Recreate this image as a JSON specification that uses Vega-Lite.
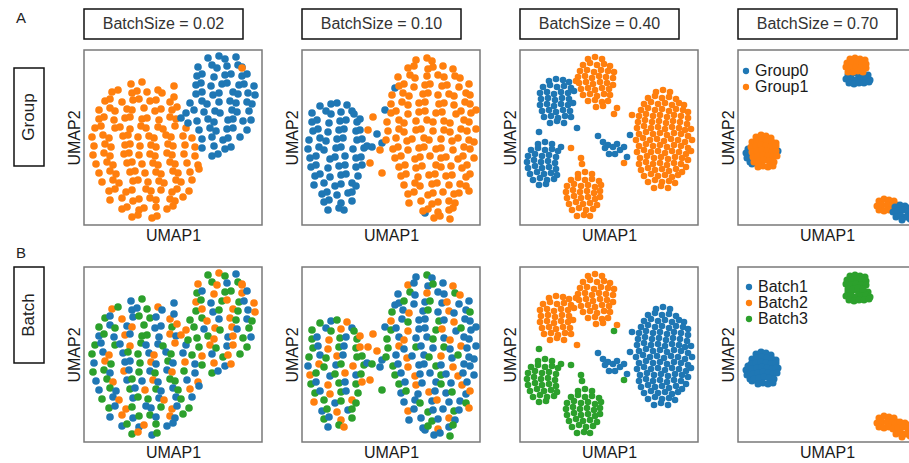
{
"$schema":"https://vega.github.io/schema/vega-lite/v6.json",
"padding":{"left":13,"top":8,"right":0,"bottom":0},
"background":"white",
"config":{"view":{"stroke":null},"font":"Liberation Sans","axis":{"labels":false,"ticks":false,"domain":false,"grid":false,"titleFontSize":16,"titleFontWeight":"normal","titleColor":"#1a1a1a","titlePadding":2,"titleFont":"Liberation Sans"},"legend":{"labelFont":"Liberation Sans"}},
"columns":5,"align":"each","bounds":"flush","center":true,
"spacing":{"row":11,"column":40},
"resolve":{"scale":{"color":"independent","x":"independent","y":"independent"},"legend":{"color":"independent"}},
"datasets":{
"c1":[
{"x":47,"y":34,"g":1,"b":1},{"x":58,"y":32,"g":1,"b":3},{"x":90,"y":36,"g":1,"b":1},{"x":28,"y":42,"g":1,"b":2},{"x":34,"y":40,"g":1,"b":3},{"x":48,"y":43,"g":1,"b":1},{"x":53,"y":41,"g":1,"b":1},{"x":63,"y":42,"g":1,"b":3},{"x":74,"y":40,"g":1,"b":2},{"x":78,"y":43,"g":1,"b":1},
{"x":21,"y":51,"g":1,"b":3},{"x":26,"y":49,"g":1,"b":1},{"x":38,"y":52,"g":1,"b":2},{"x":49,"y":50,"g":1,"b":1},{"x":55,"y":49,"g":1,"b":3},{"x":66,"y":51,"g":1,"b":3},{"x":72,"y":50,"g":1,"b":1},{"x":86,"y":52,"g":1,"b":2},{"x":90,"y":47,"g":1,"b":1},{"x":15,"y":60,"g":1,"b":3},
{"x":26,"y":58,"g":1,"b":1},{"x":31,"y":61,"g":1,"b":3},{"x":43,"y":59,"g":1,"b":1},{"x":48,"y":60,"g":1,"b":2},{"x":60,"y":58,"g":1,"b":3},{"x":71,"y":61,"g":1,"b":1},{"x":77,"y":59,"g":1,"b":1},{"x":88,"y":60,"g":1,"b":3},{"x":93,"y":57,"g":1,"b":2},{"x":15,"y":69,"g":1,"b":1},
{"x":20,"y":67,"g":1,"b":3},{"x":30,"y":70,"g":1,"b":1},{"x":41,"y":68,"g":1,"b":2},{"x":46,"y":67,"g":1,"b":1},{"x":58,"y":69,"g":1,"b":3},{"x":63,"y":68,"g":1,"b":3},{"x":75,"y":70,"g":1,"b":1},{"x":86,"y":67,"g":1,"b":2},{"x":92,"y":69,"g":1,"b":1},{"x":11,"y":78,"g":1,"b":3},
{"x":17,"y":76,"g":1,"b":1},{"x":31,"y":78,"g":1,"b":3},{"x":36,"y":77,"g":1,"b":1},{"x":46,"y":79,"g":1,"b":2},{"x":57,"y":76,"g":1,"b":3},{"x":62,"y":78,"g":1,"b":1},{"x":74,"y":77,"g":1,"b":1},{"x":79,"y":79,"g":1,"b":3},{"x":91,"y":76,"g":1,"b":2},{"x":102,"y":78,"g":1,"b":1},
{"x":8,"y":87,"g":1,"b":3},{"x":19,"y":85,"g":1,"b":1},{"x":25,"y":88,"g":1,"b":2},{"x":39,"y":86,"g":1,"b":1},{"x":44,"y":85,"g":1,"b":3},{"x":54,"y":87,"g":1,"b":3},{"x":65,"y":86,"g":1,"b":1},{"x":70,"y":88,"g":1,"b":2},{"x":82,"y":85,"g":1,"b":1},{"x":87,"y":87,"g":1,"b":3},
{"x":99,"y":86,"g":1,"b":1},{"x":108,"y":88,"g":1,"b":3},{"x":10,"y":96,"g":1,"b":1},{"x":21,"y":94,"g":1,"b":2},{"x":27,"y":97,"g":1,"b":3},{"x":41,"y":95,"g":1,"b":1},{"x":46,"y":94,"g":1,"b":1},{"x":56,"y":96,"g":1,"b":3},{"x":67,"y":95,"g":1,"b":2},{"x":72,"y":97,"g":1,"b":1},
{"x":84,"y":94,"g":1,"b":3},{"x":89,"y":96,"g":1,"b":1},{"x":101,"y":95,"g":1,"b":2},{"x":111,"y":97,"g":1,"b":1},{"x":9,"y":105,"g":1,"b":3},{"x":20,"y":103,"g":1,"b":3},{"x":26,"y":106,"g":1,"b":1},{"x":40,"y":104,"g":1,"b":2},{"x":45,"y":103,"g":1,"b":1},{"x":55,"y":105,"g":1,"b":3},
{"x":66,"y":104,"g":1,"b":1},{"x":71,"y":106,"g":1,"b":3},{"x":83,"y":103,"g":1,"b":1},{"x":88,"y":105,"g":1,"b":2},{"x":100,"y":104,"g":1,"b":3},{"x":111,"y":106,"g":1,"b":1},{"x":12,"y":114,"g":1,"b":1},{"x":23,"y":112,"g":1,"b":3},{"x":29,"y":115,"g":1,"b":2},{"x":43,"y":113,"g":1,"b":1},
{"x":48,"y":112,"g":1,"b":3},{"x":58,"y":114,"g":1,"b":1},{"x":69,"y":113,"g":1,"b":2},{"x":74,"y":115,"g":1,"b":1},{"x":86,"y":112,"g":1,"b":3},{"x":91,"y":114,"g":1,"b":3},{"x":103,"y":113,"g":1,"b":1},{"x":114,"y":115,"g":1,"b":2},{"x":15,"y":123,"g":1,"b":1},{"x":26,"y":121,"g":1,"b":3},
{"x":32,"y":124,"g":1,"b":1},{"x":46,"y":122,"g":1,"b":3},{"x":51,"y":121,"g":1,"b":1},{"x":61,"y":123,"g":1,"b":2},{"x":72,"y":122,"g":1,"b":3},{"x":77,"y":124,"g":1,"b":1},{"x":89,"y":121,"g":1,"b":1},{"x":94,"y":123,"g":1,"b":3},{"x":106,"y":122,"g":1,"b":2},{"x":115,"y":119,"g":1,"b":1},
{"x":18,"y":132,"g":1,"b":3},{"x":29,"y":130,"g":1,"b":1},{"x":35,"y":133,"g":1,"b":2},{"x":49,"y":131,"g":1,"b":1},{"x":54,"y":130,"g":1,"b":3},{"x":64,"y":132,"g":1,"b":3},{"x":75,"y":131,"g":1,"b":1},{"x":80,"y":133,"g":1,"b":2},{"x":92,"y":130,"g":1,"b":1},{"x":97,"y":132,"g":1,"b":3},
{"x":108,"y":130,"g":1,"b":1},{"x":25,"y":141,"g":1,"b":3},{"x":31,"y":139,"g":1,"b":1},{"x":42,"y":142,"g":1,"b":2},{"x":48,"y":140,"g":1,"b":3},{"x":62,"y":139,"g":1,"b":1},{"x":67,"y":141,"g":1,"b":1},{"x":77,"y":140,"g":1,"b":3},{"x":88,"y":142,"g":1,"b":2},{"x":93,"y":139,"g":1,"b":1},
{"x":105,"y":141,"g":1,"b":3},{"x":26,"y":150,"g":1,"b":1},{"x":38,"y":148,"g":1,"b":2},{"x":49,"y":151,"g":1,"b":1},{"x":55,"y":149,"g":1,"b":3},{"x":66,"y":148,"g":1,"b":3},{"x":72,"y":150,"g":1,"b":1},{"x":86,"y":149,"g":1,"b":2},{"x":91,"y":151,"g":1,"b":1},{"x":99,"y":147,"g":1,"b":3},
{"x":38,"y":159,"g":1,"b":1},{"x":43,"y":157,"g":1,"b":3},{"x":55,"y":160,"g":1,"b":1},{"x":60,"y":158,"g":1,"b":2},{"x":72,"y":157,"g":1,"b":3},{"x":83,"y":159,"g":1,"b":1},{"x":89,"y":156,"g":1,"b":1},{"x":48,"y":167,"g":1,"b":3},{"x":54,"y":165,"g":1,"b":2},{"x":68,"y":168,"g":1,"b":1},{"x":73,"y":166,"g":1,"b":3},
{"x":124,"y":8,"g":0,"b":3},{"x":135,"y":6,"g":0,"b":2},{"x":141,"y":9,"g":0,"b":3},{"x":152,"y":7,"g":0,"b":1},{"x":114,"y":17,"g":0,"b":2},{"x":128,"y":15,"g":0,"b":3},{"x":133,"y":18,"g":0,"b":2},{"x":143,"y":16,"g":0,"b":1},{"x":154,"y":15,"g":0,"b":3},{"x":158,"y":17,"g":0,"b":2},
{"x":113,"y":26,"g":0,"b":3},{"x":118,"y":24,"g":0,"b":1},{"x":130,"y":27,"g":0,"b":2},{"x":141,"y":25,"g":0,"b":3},{"x":147,"y":24,"g":0,"b":3},{"x":158,"y":26,"g":0,"b":2},{"x":163,"y":24,"g":0,"b":1},{"x":112,"y":35,"g":0,"b":2},{"x":117,"y":33,"g":0,"b":3},{"x":127,"y":36,"g":0,"b":1},
{"x":138,"y":34,"g":0,"b":3},{"x":143,"y":33,"g":0,"b":2},{"x":155,"y":35,"g":0,"b":3},{"x":160,"y":34,"g":0,"b":1},{"x":170,"y":36,"g":0,"b":2},{"x":112,"y":44,"g":0,"b":3},{"x":118,"y":42,"g":0,"b":2},{"x":129,"y":45,"g":0,"b":1},{"x":135,"y":43,"g":0,"b":3},{"x":149,"y":42,"g":0,"b":2},
{"x":154,"y":44,"g":0,"b":3},{"x":164,"y":43,"g":0,"b":1},{"x":171,"y":45,"g":0,"b":2},{"x":106,"y":53,"g":0,"b":3},{"x":118,"y":51,"g":0,"b":3},{"x":123,"y":54,"g":0,"b":2},{"x":135,"y":52,"g":0,"b":1},{"x":146,"y":51,"g":0,"b":2},{"x":152,"y":53,"g":0,"b":3},{"x":163,"y":52,"g":0,"b":1},
{"x":168,"y":54,"g":0,"b":3},{"x":102,"y":63,"g":0,"b":2},{"x":110,"y":60,"g":0,"b":3},{"x":120,"y":62,"g":0,"b":1},{"x":131,"y":61,"g":0,"b":2},{"x":136,"y":63,"g":0,"b":3},{"x":148,"y":60,"g":0,"b":2},{"x":153,"y":62,"g":0,"b":1},{"x":165,"y":61,"g":0,"b":3},{"x":97,"y":68,"g":0,"b":2},
{"x":113,"y":71,"g":0,"b":3},{"x":124,"y":69,"g":0,"b":3},{"x":130,"y":72,"g":0,"b":2},{"x":144,"y":70,"g":0,"b":1},{"x":149,"y":69,"g":0,"b":2},{"x":159,"y":71,"g":0,"b":3},{"x":167,"y":70,"g":0,"b":1},{"x":115,"y":80,"g":0,"b":3},{"x":126,"y":78,"g":0,"b":2},{"x":132,"y":81,"g":0,"b":3},
{"x":143,"y":79,"g":0,"b":1},{"x":149,"y":78,"g":0,"b":2},{"x":163,"y":80,"g":0,"b":3},{"x":118,"y":89,"g":0,"b":2},{"x":128,"y":87,"g":0,"b":1},{"x":139,"y":90,"g":0,"b":3},{"x":144,"y":88,"g":0,"b":2},{"x":156,"y":87,"g":0,"b":3},{"x":118,"y":98,"g":0,"b":3},{"x":130,"y":96,"g":0,"b":2},
{"x":141,"y":99,"g":0,"b":1},{"x":147,"y":97,"g":0,"b":2},{"x":128,"y":106,"g":0,"b":3},{"x":134,"y":104,"g":0,"b":1},{"x":104,"y":73,"g":0,"b":3},
{"x":158,"y":18,"g":1,"b":2}
],
"c2":[
{"x":18,"y":56,"g":0,"b":3},{"x":29,"y":54,"g":0,"b":1},{"x":35,"y":53,"g":0,"b":3},{"x":45,"y":55,"g":0,"b":2},{"x":10,"y":63,"g":0,"b":3},{"x":24,"y":61,"g":0,"b":1},{"x":29,"y":64,"g":0,"b":3},{"x":39,"y":62,"g":0,"b":2},{"x":50,"y":61,"g":0,"b":1},{"x":52,"y":64,"g":0,"b":3},
{"x":10,"y":72,"g":0,"b":3},{"x":15,"y":70,"g":0,"b":1},{"x":27,"y":73,"g":0,"b":2},{"x":38,"y":71,"g":0,"b":3},{"x":44,"y":70,"g":0,"b":1},{"x":55,"y":72,"g":0,"b":3},{"x":58,"y":69,"g":0,"b":2},{"x":11,"y":81,"g":0,"b":3},{"x":16,"y":79,"g":0,"b":1},{"x":26,"y":82,"g":0,"b":2},
{"x":37,"y":80,"g":0,"b":3},{"x":42,"y":79,"g":0,"b":1},{"x":54,"y":81,"g":0,"b":3},{"x":58,"y":80,"g":0,"b":2},{"x":7,"y":90,"g":0,"b":3},{"x":18,"y":88,"g":0,"b":1},{"x":24,"y":91,"g":0,"b":3},{"x":35,"y":89,"g":0,"b":2},{"x":41,"y":88,"g":0,"b":1},{"x":55,"y":90,"g":0,"b":3},
{"x":60,"y":89,"g":0,"b":3},{"x":6,"y":99,"g":0,"b":1},{"x":17,"y":97,"g":0,"b":2},{"x":22,"y":100,"g":0,"b":3},{"x":34,"y":98,"g":0,"b":1},{"x":39,"y":97,"g":0,"b":3},{"x":51,"y":99,"g":0,"b":2},{"x":62,"y":98,"g":0,"b":3},{"x":65,"y":96,"g":0,"b":1},{"x":8,"y":108,"g":0,"b":2},
{"x":14,"y":106,"g":0,"b":3},{"x":28,"y":109,"g":0,"b":1},{"x":33,"y":107,"g":0,"b":3},{"x":43,"y":106,"g":0,"b":2},{"x":54,"y":108,"g":0,"b":1},{"x":59,"y":107,"g":0,"b":3},{"x":9,"y":117,"g":0,"b":3},{"x":14,"y":115,"g":0,"b":1},{"x":26,"y":118,"g":0,"b":2},{"x":37,"y":116,"g":0,"b":3},
{"x":43,"y":115,"g":0,"b":1},{"x":54,"y":117,"g":0,"b":3},{"x":60,"y":115,"g":0,"b":2},{"x":13,"y":126,"g":0,"b":3},{"x":18,"y":124,"g":0,"b":1},{"x":28,"y":127,"g":0,"b":2},{"x":39,"y":125,"g":0,"b":3},{"x":44,"y":124,"g":0,"b":1},{"x":56,"y":126,"g":0,"b":3},{"x":12,"y":135,"g":0,"b":2},
{"x":22,"y":133,"g":0,"b":3},{"x":33,"y":136,"g":0,"b":1},{"x":39,"y":134,"g":0,"b":3},{"x":50,"y":133,"g":0,"b":2},{"x":54,"y":136,"g":0,"b":3},{"x":20,"y":144,"g":0,"b":1},{"x":25,"y":142,"g":0,"b":3},{"x":35,"y":145,"g":0,"b":2},{"x":46,"y":143,"g":0,"b":1},{"x":50,"y":142,"g":0,"b":3},
{"x":22,"y":152,"g":0,"b":3},{"x":27,"y":150,"g":0,"b":1},{"x":39,"y":153,"g":0,"b":2},{"x":50,"y":151,"g":0,"b":3},{"x":26,"y":160,"g":0,"b":1},{"x":37,"y":158,"g":0,"b":3},{"x":42,"y":160,"g":0,"b":2},
{"x":83,"y":60,"g":0,"b":1},{"x":93,"y":38,"g":0,"b":1},{"x":70,"y":97,"g":0,"b":3},{"x":80,"y":93,"g":0,"b":1},{"x":123,"y":163,"g":0,"b":1},{"x":75,"y":84,"g":0,"b":2},
{"x":71,"y":67,"g":1,"b":2},{"x":66,"y":80,"g":1,"b":2},{"x":68,"y":113,"g":1,"b":2},{"x":80,"y":123,"g":1,"b":3},{"x":78,"y":100,"g":1,"b":1},
{"x":114,"y":10,"g":1,"b":1},{"x":125,"y":8,"g":1,"b":3},{"x":130,"y":11,"g":1,"b":1},{"x":106,"y":18,"g":1,"b":2},{"x":112,"y":16,"g":1,"b":1},{"x":126,"y":19,"g":1,"b":1},{"x":131,"y":17,"g":1,"b":3},{"x":141,"y":16,"g":1,"b":1},{"x":151,"y":19,"g":1,"b":2},{"x":96,"y":27,"g":1,"b":1},
{"x":108,"y":25,"g":1,"b":3},{"x":113,"y":28,"g":1,"b":1},{"x":125,"y":26,"g":1,"b":2},{"x":136,"y":25,"g":1,"b":1},{"x":142,"y":27,"g":1,"b":1},{"x":153,"y":26,"g":1,"b":3},{"x":158,"y":28,"g":1,"b":2},{"x":97,"y":36,"g":1,"b":1},{"x":102,"y":34,"g":1,"b":3},{"x":112,"y":37,"g":1,"b":1},
{"x":123,"y":35,"g":1,"b":1},{"x":128,"y":34,"g":1,"b":3},{"x":140,"y":36,"g":1,"b":1},{"x":145,"y":35,"g":1,"b":2},{"x":157,"y":37,"g":1,"b":1},{"x":167,"y":34,"g":1,"b":1},{"x":90,"y":45,"g":1,"b":3},{"x":101,"y":43,"g":1,"b":1},{"x":107,"y":46,"g":1,"b":2},{"x":121,"y":44,"g":1,"b":1},
{"x":126,"y":43,"g":1,"b":3},{"x":136,"y":45,"g":1,"b":1},{"x":147,"y":44,"g":1,"b":2},{"x":152,"y":46,"g":1,"b":1},{"x":164,"y":43,"g":1,"b":1},{"x":168,"y":45,"g":1,"b":3},{"x":89,"y":54,"g":1,"b":2},{"x":100,"y":52,"g":1,"b":1},{"x":106,"y":55,"g":1,"b":3},{"x":117,"y":53,"g":1,"b":1},
{"x":123,"y":52,"g":1,"b":1},{"x":137,"y":54,"g":1,"b":3},{"x":142,"y":53,"g":1,"b":1},{"x":152,"y":55,"g":1,"b":2},{"x":163,"y":52,"g":1,"b":1},{"x":168,"y":54,"g":1,"b":1},{"x":89,"y":63,"g":1,"b":3},{"x":94,"y":61,"g":1,"b":1},{"x":106,"y":64,"g":1,"b":2},{"x":117,"y":62,"g":1,"b":1},
{"x":123,"y":61,"g":1,"b":1},{"x":134,"y":63,"g":1,"b":3},{"x":140,"y":62,"g":1,"b":2},{"x":154,"y":64,"g":1,"b":1},{"x":159,"y":61,"g":1,"b":3},{"x":169,"y":63,"g":1,"b":1},{"x":174,"y":60,"g":1,"b":1},{"x":85,"y":72,"g":1,"b":3},{"x":97,"y":70,"g":1,"b":1},{"x":102,"y":73,"g":1,"b":2},
{"x":114,"y":71,"g":1,"b":1},{"x":125,"y":70,"g":1,"b":1},{"x":131,"y":72,"g":1,"b":3},{"x":142,"y":71,"g":1,"b":1},{"x":148,"y":73,"g":1,"b":2},{"x":162,"y":70,"g":1,"b":1},{"x":167,"y":72,"g":1,"b":1},{"x":86,"y":81,"g":1,"b":3},{"x":97,"y":79,"g":1,"b":2},{"x":102,"y":82,"g":1,"b":1},
{"x":114,"y":80,"g":1,"b":3},{"x":119,"y":79,"g":1,"b":1},{"x":131,"y":81,"g":1,"b":1},{"x":142,"y":80,"g":1,"b":3},{"x":148,"y":82,"g":1,"b":1},{"x":159,"y":79,"g":1,"b":2},{"x":165,"y":81,"g":1,"b":1},{"x":174,"y":79,"g":1,"b":1},{"x":84,"y":90,"g":1,"b":3},{"x":94,"y":88,"g":1,"b":1},
{"x":105,"y":91,"g":1,"b":2},{"x":110,"y":89,"g":1,"b":1},{"x":122,"y":88,"g":1,"b":1},{"x":127,"y":90,"g":1,"b":3},{"x":139,"y":89,"g":1,"b":2},{"x":150,"y":91,"g":1,"b":1},{"x":156,"y":88,"g":1,"b":3},{"x":167,"y":90,"g":1,"b":1},{"x":172,"y":92,"g":1,"b":1},{"x":91,"y":99,"g":1,"b":3},
{"x":96,"y":97,"g":1,"b":1},{"x":106,"y":100,"g":1,"b":2},{"x":117,"y":98,"g":1,"b":1},{"x":122,"y":97,"g":1,"b":1},{"x":134,"y":99,"g":1,"b":3},{"x":139,"y":98,"g":1,"b":1},{"x":151,"y":100,"g":1,"b":2},{"x":162,"y":97,"g":1,"b":1},{"x":168,"y":99,"g":1,"b":1},{"x":93,"y":108,"g":1,"b":3},
{"x":99,"y":106,"g":1,"b":1},{"x":113,"y":109,"g":1,"b":2},{"x":118,"y":107,"g":1,"b":1},{"x":128,"y":106,"g":1,"b":1},{"x":139,"y":108,"g":1,"b":3},{"x":144,"y":107,"g":1,"b":1},{"x":156,"y":109,"g":1,"b":2},{"x":161,"y":106,"g":1,"b":1},{"x":172,"y":108,"g":1,"b":1},{"x":97,"y":117,"g":1,"b":3},
{"x":103,"y":115,"g":1,"b":1},{"x":114,"y":118,"g":1,"b":2},{"x":120,"y":116,"g":1,"b":1},{"x":134,"y":115,"g":1,"b":1},{"x":139,"y":117,"g":1,"b":3},{"x":149,"y":116,"g":1,"b":1},{"x":160,"y":118,"g":1,"b":2},{"x":165,"y":115,"g":1,"b":1},{"x":99,"y":126,"g":1,"b":1},{"x":104,"y":124,"g":1,"b":3},
{"x":116,"y":127,"g":1,"b":1},{"x":127,"y":125,"g":1,"b":2},{"x":133,"y":124,"g":1,"b":1},{"x":144,"y":126,"g":1,"b":1},{"x":150,"y":125,"g":1,"b":3},{"x":164,"y":127,"g":1,"b":1},{"x":168,"y":124,"g":1,"b":2},{"x":102,"y":135,"g":1,"b":1},{"x":113,"y":133,"g":1,"b":1},{"x":118,"y":136,"g":1,"b":3},
{"x":130,"y":134,"g":1,"b":1},{"x":135,"y":133,"g":1,"b":2},{"x":147,"y":135,"g":1,"b":1},{"x":158,"y":134,"g":1,"b":1},{"x":164,"y":136,"g":1,"b":3},{"x":106,"y":144,"g":1,"b":2},{"x":112,"y":142,"g":1,"b":1},{"x":126,"y":145,"g":1,"b":3},{"x":131,"y":143,"g":1,"b":1},{"x":141,"y":142,"g":1,"b":1},
{"x":152,"y":144,"g":1,"b":3},{"x":157,"y":143,"g":1,"b":1},{"x":167,"y":141,"g":1,"b":2},{"x":107,"y":153,"g":1,"b":1},{"x":119,"y":151,"g":1,"b":1},{"x":130,"y":154,"g":1,"b":3},{"x":136,"y":152,"g":1,"b":1},{"x":147,"y":151,"g":1,"b":2},{"x":153,"y":153,"g":1,"b":1},{"x":121,"y":161,"g":1,"b":1},
{"x":126,"y":159,"g":1,"b":3},{"x":136,"y":162,"g":1,"b":2},{"x":147,"y":160,"g":1,"b":1},{"x":151,"y":158,"g":1,"b":3},{"x":132,"y":168,"g":1,"b":1},{"x":138,"y":166,"g":1,"b":1},{"x":148,"y":169,"g":1,"b":3}
],
"c3":[
{"x":29,"y":31,"g":0,"b":2},{"x":36,"y":29,"g":0,"b":2},{"x":43,"y":30,"g":0,"b":2},{"x":49,"y":32,"g":0,"b":2},{"x":23,"y":37,"g":0,"b":2},{"x":30,"y":35,"g":0,"b":2},{"x":37,"y":37,"g":0,"b":2},{"x":44,"y":36,"g":0,"b":2},{"x":51,"y":38,"g":0,"b":2},{"x":20,"y":43,"g":0,"b":2},
{"x":27,"y":42,"g":0,"b":2},{"x":34,"y":44,"g":0,"b":2},{"x":41,"y":42,"g":0,"b":2},{"x":48,"y":43,"g":0,"b":2},{"x":54,"y":41,"g":0,"b":2},{"x":21,"y":49,"g":0,"b":2},{"x":28,"y":48,"g":0,"b":2},{"x":35,"y":50,"g":0,"b":2},{"x":42,"y":48,"g":0,"b":2},{"x":49,"y":49,"g":0,"b":2},
{"x":20,"y":55,"g":0,"b":2},{"x":27,"y":54,"g":0,"b":2},{"x":34,"y":56,"g":0,"b":2},{"x":41,"y":54,"g":0,"b":2},{"x":48,"y":55,"g":0,"b":2},{"x":53,"y":53,"g":0,"b":2},{"x":22,"y":61,"g":0,"b":2},{"x":29,"y":60,"g":0,"b":2},{"x":36,"y":62,"g":0,"b":2},{"x":43,"y":60,"g":0,"b":2},
{"x":50,"y":61,"g":0,"b":2},{"x":24,"y":67,"g":0,"b":2},{"x":31,"y":66,"g":0,"b":2},{"x":38,"y":68,"g":0,"b":2},{"x":45,"y":66,"g":0,"b":2},{"x":51,"y":67,"g":0,"b":2},{"x":30,"y":73,"g":0,"b":2},{"x":37,"y":71,"g":0,"b":2},{"x":44,"y":73,"g":0,"b":2},{"x":57,"y":78,"g":0,"b":2},
{"x":68,"y":9,"g":1,"b":2},{"x":75,"y":7,"g":1,"b":2},{"x":82,"y":9,"g":1,"b":2},{"x":63,"y":15,"g":1,"b":2},{"x":70,"y":13,"g":1,"b":2},{"x":77,"y":15,"g":1,"b":2},{"x":84,"y":14,"g":1,"b":2},{"x":90,"y":16,"g":1,"b":2},{"x":60,"y":21,"g":1,"b":2},{"x":67,"y":20,"g":1,"b":2},
{"x":74,"y":22,"g":1,"b":2},{"x":81,"y":20,"g":1,"b":2},{"x":88,"y":21,"g":1,"b":2},{"x":94,"y":22,"g":1,"b":2},{"x":58,"y":27,"g":1,"b":2},{"x":65,"y":26,"g":1,"b":2},{"x":72,"y":28,"g":1,"b":2},{"x":79,"y":26,"g":1,"b":2},{"x":86,"y":27,"g":1,"b":2},{"x":93,"y":28,"g":1,"b":2},
{"x":59,"y":33,"g":1,"b":2},{"x":66,"y":32,"g":1,"b":2},{"x":73,"y":34,"g":1,"b":2},{"x":80,"y":32,"g":1,"b":2},{"x":87,"y":33,"g":1,"b":2},{"x":93,"y":35,"g":1,"b":2},{"x":61,"y":39,"g":1,"b":2},{"x":68,"y":38,"g":1,"b":2},{"x":75,"y":40,"g":1,"b":2},{"x":82,"y":38,"g":1,"b":2},
{"x":89,"y":39,"g":1,"b":2},{"x":63,"y":45,"g":1,"b":2},{"x":70,"y":44,"g":1,"b":2},{"x":77,"y":46,"g":1,"b":2},{"x":84,"y":44,"g":1,"b":2},{"x":90,"y":45,"g":1,"b":2},{"x":68,"y":51,"g":1,"b":2},{"x":75,"y":50,"g":1,"b":2},{"x":82,"y":52,"g":1,"b":2},{"x":88,"y":51,"g":1,"b":2},
{"x":76,"y":57,"g":1,"b":2},{"x":83,"y":56,"g":1,"b":2},{"x":97,"y":58,"g":1,"b":2},{"x":56,"y":31,"g":1,"b":2},{"x":94,"y":64,"g":1,"b":3},
{"x":18,"y":94,"g":0,"b":3},{"x":25,"y":92,"g":0,"b":3},{"x":32,"y":94,"g":0,"b":3},{"x":11,"y":100,"g":0,"b":3},{"x":18,"y":98,"g":0,"b":3},{"x":25,"y":100,"g":0,"b":3},{"x":32,"y":99,"g":0,"b":3},{"x":38,"y":101,"g":0,"b":3},{"x":8,"y":106,"g":0,"b":3},{"x":15,"y":104,"g":0,"b":3},
{"x":22,"y":106,"g":0,"b":3},{"x":29,"y":105,"g":0,"b":3},{"x":36,"y":107,"g":0,"b":3},{"x":7,"y":112,"g":0,"b":3},{"x":14,"y":110,"g":0,"b":3},{"x":21,"y":112,"g":0,"b":3},{"x":28,"y":111,"g":0,"b":3},{"x":35,"y":113,"g":0,"b":3},{"x":8,"y":118,"g":0,"b":3},{"x":15,"y":116,"g":0,"b":3},
{"x":22,"y":118,"g":0,"b":3},{"x":29,"y":117,"g":0,"b":3},{"x":36,"y":119,"g":0,"b":3},{"x":10,"y":124,"g":0,"b":3},{"x":17,"y":122,"g":0,"b":3},{"x":24,"y":124,"g":0,"b":3},{"x":31,"y":123,"g":0,"b":3},{"x":37,"y":125,"g":0,"b":3},{"x":13,"y":130,"g":0,"b":3},{"x":20,"y":128,"g":0,"b":3},
{"x":27,"y":130,"g":0,"b":3},{"x":34,"y":129,"g":0,"b":3},{"x":19,"y":135,"g":0,"b":3},{"x":26,"y":134,"g":0,"b":3},{"x":19,"y":82,"g":0,"b":3},{"x":41,"y":97,"g":0,"b":3},
{"x":58,"y":124,"g":1,"b":3},{"x":65,"y":122,"g":1,"b":3},{"x":72,"y":124,"g":1,"b":3},{"x":51,"y":130,"g":1,"b":3},{"x":58,"y":128,"g":1,"b":3},{"x":65,"y":130,"g":1,"b":3},{"x":72,"y":129,"g":1,"b":3},{"x":79,"y":131,"g":1,"b":3},{"x":47,"y":136,"g":1,"b":3},{"x":54,"y":134,"g":1,"b":3},
{"x":61,"y":136,"g":1,"b":3},{"x":68,"y":135,"g":1,"b":3},{"x":75,"y":137,"g":1,"b":3},{"x":81,"y":135,"g":1,"b":3},{"x":46,"y":142,"g":1,"b":3},{"x":53,"y":140,"g":1,"b":3},{"x":60,"y":142,"g":1,"b":3},{"x":67,"y":141,"g":1,"b":3},{"x":74,"y":143,"g":1,"b":3},{"x":80,"y":141,"g":1,"b":3},
{"x":47,"y":148,"g":1,"b":3},{"x":54,"y":146,"g":1,"b":3},{"x":61,"y":148,"g":1,"b":3},{"x":68,"y":147,"g":1,"b":3},{"x":75,"y":149,"g":1,"b":3},{"x":80,"y":147,"g":1,"b":3},{"x":49,"y":154,"g":1,"b":3},{"x":56,"y":152,"g":1,"b":3},{"x":63,"y":154,"g":1,"b":3},{"x":70,"y":153,"g":1,"b":3},
{"x":77,"y":155,"g":1,"b":3},{"x":52,"y":160,"g":1,"b":3},{"x":59,"y":158,"g":1,"b":3},{"x":66,"y":160,"g":1,"b":3},{"x":73,"y":159,"g":1,"b":3},{"x":57,"y":166,"g":1,"b":3},{"x":64,"y":165,"g":1,"b":3},{"x":70,"y":166,"g":1,"b":3},{"x":61,"y":108,"g":1,"b":3},{"x":62,"y":114,"g":1,"b":3},
{"x":51,"y":98,"g":1,"b":3},{"x":104,"y":113,"g":1,"b":3},
{"x":78,"y":86,"g":0,"b":1},{"x":83,"y":92,"g":0,"b":1},{"x":88,"y":95,"g":0,"b":1},{"x":93,"y":97,"g":0,"b":1},{"x":97,"y":94,"g":0,"b":1},{"x":100,"y":100,"g":0,"b":1},{"x":89,"y":104,"g":0,"b":1},{"x":95,"y":104,"g":0,"b":1},{"x":107,"y":107,"g":0,"b":1},{"x":110,"y":85,"g":0,"b":1},
{"x":104,"y":97,"g":0,"b":1},{"x":85,"y":98,"g":0,"b":1},{"x":112,"y":65,"g":1,"b":1},
{"x":136,"y":42,"g":1,"b":1},{"x":143,"y":40,"g":1,"b":1},{"x":150,"y":42,"g":1,"b":1},{"x":128,"y":48,"g":1,"b":1},{"x":135,"y":46,"g":1,"b":1},{"x":142,"y":48,"g":1,"b":1},{"x":149,"y":47,"g":1,"b":1},{"x":156,"y":49,"g":1,"b":1},
{"x":124,"y":54,"g":1,"b":1},{"x":131,"y":52,"g":1,"b":1},{"x":138,"y":54,"g":1,"b":1},{"x":145,"y":53,"g":1,"b":1},{"x":152,"y":55,"g":1,"b":1},{"x":159,"y":53,"g":1,"b":1},{"x":164,"y":55,"g":1,"b":1},
{"x":121,"y":60,"g":1,"b":1},{"x":128,"y":58,"g":1,"b":1},{"x":135,"y":60,"g":1,"b":1},{"x":142,"y":59,"g":1,"b":1},{"x":149,"y":61,"g":1,"b":1},{"x":156,"y":59,"g":1,"b":1},{"x":163,"y":60,"g":1,"b":1},{"x":168,"y":62,"g":1,"b":1},
{"x":119,"y":66,"g":1,"b":1},{"x":126,"y":64,"g":1,"b":1},{"x":133,"y":66,"g":1,"b":1},{"x":140,"y":65,"g":1,"b":1},{"x":147,"y":67,"g":1,"b":1},{"x":154,"y":65,"g":1,"b":1},{"x":161,"y":66,"g":1,"b":1},{"x":168,"y":68,"g":1,"b":1},
{"x":118,"y":72,"g":1,"b":1},{"x":125,"y":70,"g":1,"b":1},{"x":132,"y":72,"g":1,"b":1},{"x":139,"y":71,"g":1,"b":1},{"x":146,"y":73,"g":1,"b":1},{"x":153,"y":71,"g":1,"b":1},{"x":160,"y":72,"g":1,"b":1},{"x":167,"y":74,"g":1,"b":1},{"x":171,"y":79,"g":1,"b":1},
{"x":117,"y":78,"g":1,"b":1},{"x":124,"y":76,"g":1,"b":1},{"x":131,"y":78,"g":1,"b":1},{"x":138,"y":77,"g":1,"b":1},{"x":145,"y":79,"g":1,"b":1},{"x":152,"y":77,"g":1,"b":1},{"x":159,"y":78,"g":1,"b":1},{"x":165,"y":80,"g":1,"b":1},
{"x":119,"y":84,"g":1,"b":1},{"x":126,"y":82,"g":1,"b":1},{"x":133,"y":84,"g":1,"b":1},{"x":140,"y":83,"g":1,"b":1},{"x":147,"y":85,"g":1,"b":1},{"x":154,"y":83,"g":1,"b":1},{"x":161,"y":84,"g":1,"b":1},{"x":168,"y":86,"g":1,"b":1},
{"x":116,"y":90,"g":1,"b":1},{"x":123,"y":88,"g":1,"b":1},{"x":130,"y":90,"g":1,"b":1},{"x":137,"y":89,"g":1,"b":1},{"x":144,"y":91,"g":1,"b":1},{"x":151,"y":89,"g":1,"b":1},{"x":158,"y":90,"g":1,"b":1},{"x":165,"y":92,"g":1,"b":1},{"x":172,"y":90,"g":1,"b":1},
{"x":119,"y":96,"g":1,"b":1},{"x":126,"y":94,"g":1,"b":1},{"x":133,"y":96,"g":1,"b":1},{"x":140,"y":95,"g":1,"b":1},{"x":147,"y":97,"g":1,"b":1},{"x":154,"y":95,"g":1,"b":1},{"x":161,"y":96,"g":1,"b":1},{"x":168,"y":98,"g":1,"b":1},
{"x":117,"y":102,"g":1,"b":1},{"x":124,"y":100,"g":1,"b":1},{"x":131,"y":102,"g":1,"b":1},{"x":138,"y":101,"g":1,"b":1},{"x":145,"y":103,"g":1,"b":1},{"x":152,"y":101,"g":1,"b":1},{"x":159,"y":102,"g":1,"b":1},{"x":166,"y":104,"g":1,"b":1},{"x":171,"y":101,"g":1,"b":1},
{"x":120,"y":108,"g":1,"b":1},{"x":127,"y":106,"g":1,"b":1},{"x":134,"y":108,"g":1,"b":1},{"x":141,"y":107,"g":1,"b":1},{"x":148,"y":109,"g":1,"b":1},{"x":155,"y":107,"g":1,"b":1},{"x":162,"y":108,"g":1,"b":1},{"x":168,"y":110,"g":1,"b":1},
{"x":119,"y":114,"g":1,"b":1},{"x":126,"y":112,"g":1,"b":1},{"x":133,"y":114,"g":1,"b":1},{"x":140,"y":113,"g":1,"b":1},{"x":147,"y":115,"g":1,"b":1},{"x":154,"y":113,"g":1,"b":1},{"x":161,"y":114,"g":1,"b":1},{"x":166,"y":117,"g":1,"b":1},
{"x":121,"y":120,"g":1,"b":1},{"x":128,"y":118,"g":1,"b":1},{"x":135,"y":120,"g":1,"b":1},{"x":142,"y":119,"g":1,"b":1},{"x":149,"y":121,"g":1,"b":1},{"x":156,"y":119,"g":1,"b":1},{"x":162,"y":122,"g":1,"b":1},
{"x":124,"y":126,"g":1,"b":1},{"x":131,"y":124,"g":1,"b":1},{"x":138,"y":126,"g":1,"b":1},{"x":145,"y":125,"g":1,"b":1},{"x":152,"y":127,"g":1,"b":1},{"x":158,"y":125,"g":1,"b":1},
{"x":128,"y":132,"g":1,"b":1},{"x":135,"y":130,"g":1,"b":1},{"x":142,"y":132,"g":1,"b":1},{"x":149,"y":131,"g":1,"b":1},{"x":155,"y":133,"g":1,"b":1},{"x":134,"y":138,"g":1,"b":1},{"x":141,"y":136,"g":1,"b":1},{"x":148,"y":138,"g":1,"b":1}
],
"c4":[
{"x":110,"y":25,"g":0,"b":3},{"x":115,"y":23,"g":0,"b":3},{"x":120,"y":24,"g":0,"b":3},{"x":125,"y":23,"g":0,"b":3},{"x":130,"y":25,"g":0,"b":3},{"x":108,"y":29,"g":0,"b":3},{"x":113,"y":28,"g":0,"b":3},{"x":118,"y":30,"g":0,"b":3},{"x":123,"y":29,"g":0,"b":3},{"x":128,"y":28,"g":0,"b":3},
{"x":132,"y":30,"g":0,"b":3},{"x":111,"y":33,"g":0,"b":3},{"x":116,"y":34,"g":0,"b":3},{"x":121,"y":33,"g":0,"b":3},{"x":126,"y":33,"g":0,"b":3},{"x":131,"y":32,"g":0,"b":3},
{"x":112,"y":9,"g":1,"b":3},{"x":117,"y":8,"g":1,"b":3},{"x":122,"y":9,"g":1,"b":3},{"x":127,"y":10,"g":1,"b":3},{"x":109,"y":13,"g":1,"b":3},{"x":114,"y":13,"g":1,"b":3},{"x":119,"y":12,"g":1,"b":3},{"x":124,"y":13,"g":1,"b":3},{"x":128,"y":14,"g":1,"b":3},{"x":108,"y":17,"g":1,"b":3},
{"x":113,"y":18,"g":1,"b":3},{"x":118,"y":17,"g":1,"b":3},{"x":123,"y":18,"g":1,"b":3},{"x":128,"y":18,"g":1,"b":3},{"x":110,"y":22,"g":1,"b":3},{"x":115,"y":22,"g":1,"b":3},{"x":120,"y":21,"g":1,"b":3},{"x":125,"y":22,"g":1,"b":3},
{"x":8,"y":103,"g":0,"b":1},{"x":9,"y":108,"g":0,"b":1},{"x":12,"y":112,"g":0,"b":1},{"x":10,"y":99,"g":0,"b":1},{"x":13,"y":106,"g":0,"b":1},{"x":40,"y":101,"g":0,"b":1},{"x":14,"y":114,"g":0,"b":1},
{"x":18,"y":87,"g":1,"b":1},{"x":23,"y":85,"g":1,"b":1},{"x":28,"y":86,"g":1,"b":1},{"x":33,"y":88,"g":1,"b":1},{"x":14,"y":92,"g":1,"b":1},{"x":19,"y":91,"g":1,"b":1},{"x":24,"y":90,"g":1,"b":1},{"x":29,"y":91,"g":1,"b":1},{"x":34,"y":92,"g":1,"b":1},{"x":38,"y":93,"g":1,"b":1},
{"x":13,"y":97,"g":1,"b":1},{"x":18,"y":96,"g":1,"b":1},{"x":23,"y":95,"g":1,"b":1},{"x":28,"y":96,"g":1,"b":1},{"x":33,"y":97,"g":1,"b":1},{"x":38,"y":96,"g":1,"b":1},{"x":14,"y":102,"g":1,"b":1},{"x":19,"y":101,"g":1,"b":1},{"x":24,"y":100,"g":1,"b":1},{"x":29,"y":101,"g":1,"b":1},
{"x":34,"y":102,"g":1,"b":1},{"x":38,"y":101,"g":1,"b":1},{"x":15,"y":107,"g":1,"b":1},{"x":20,"y":106,"g":1,"b":1},{"x":25,"y":105,"g":1,"b":1},{"x":30,"y":106,"g":1,"b":1},{"x":35,"y":107,"g":1,"b":1},{"x":39,"y":106,"g":1,"b":1},{"x":16,"y":112,"g":1,"b":1},{"x":21,"y":111,"g":1,"b":1},
{"x":26,"y":110,"g":1,"b":1},{"x":31,"y":111,"g":1,"b":1},{"x":36,"y":112,"g":1,"b":1},{"x":20,"y":117,"g":1,"b":1},{"x":25,"y":116,"g":1,"b":1},{"x":30,"y":117,"g":1,"b":1},{"x":35,"y":116,"g":1,"b":1},
{"x":141,"y":151,"g":1,"b":2},{"x":146,"y":149,"g":1,"b":2},{"x":151,"y":150,"g":1,"b":2},{"x":156,"y":151,"g":1,"b":2},{"x":139,"y":156,"g":1,"b":2},{"x":144,"y":155,"g":1,"b":2},{"x":149,"y":155,"g":1,"b":2},{"x":154,"y":156,"g":1,"b":2},{"x":159,"y":155,"g":1,"b":2},{"x":141,"y":160,"g":1,"b":2},
{"x":146,"y":161,"g":1,"b":2},{"x":151,"y":160,"g":1,"b":2},{"x":156,"y":161,"g":1,"b":2},
{"x":157,"y":157,"g":0,"b":2},{"x":162,"y":155,"g":0,"b":2},{"x":167,"y":156,"g":0,"b":2},{"x":171,"y":158,"g":0,"b":2},{"x":155,"y":162,"g":0,"b":2},{"x":160,"y":161,"g":0,"b":2},{"x":165,"y":160,"g":0,"b":2},{"x":170,"y":162,"g":0,"b":2},{"x":173,"y":165,"g":0,"b":2},{"x":158,"y":167,"g":0,"b":2},
{"x":163,"y":166,"g":0,"b":2},{"x":168,"y":167,"g":0,"b":2},{"x":172,"y":169,"g":0,"b":2},{"x":164,"y":170,"g":0,"b":2}
]
},
"concat":[
{"width":30,"height":30,"data":{"values":[{"t":"A"}]},"mark":{"type":"text","fontSize":15,"color":"#222","dx":-8,"dy":-6},"encoding":{"text":{"field":"t"}}},
{"width":159,"height":30,"view":{"stroke":"#111","strokeWidth":1.5},"data":{"values":[{"label":"BatchSize = 0.02"}]},"mark":{"type":"text","fontSize":16,"color":"#333"},"encoding":{"text":{"field":"label"}}},
{"width":159,"height":30,"view":{"stroke":"#111","strokeWidth":1.5},"data":{"values":[{"label":"BatchSize = 0.10"}]},"mark":{"type":"text","fontSize":16,"color":"#333"},"encoding":{"text":{"field":"label"}}},
{"width":159,"height":30,"view":{"stroke":"#111","strokeWidth":1.5},"data":{"values":[{"label":"BatchSize = 0.40"}]},"mark":{"type":"text","fontSize":16,"color":"#333"},"encoding":{"text":{"field":"label"}}},
{"width":159,"height":30,"view":{"stroke":"#111","strokeWidth":1.5},"data":{"values":[{"label":"BatchSize = 0.70"}]},"mark":{"type":"text","fontSize":16,"color":"#333"},"encoding":{"text":{"field":"label"}}},
{"width":30,"height":98,"view":{"stroke":"#111","strokeWidth":1.5},"data":{"values":[{"label":"Group"}]},"mark":{"type":"text","angle":270,"fontSize":17,"color":"#222"},"encoding":{"text":{"field":"label"}}},
{"width":178,"height":175,"view":{"stroke":"#7a7a7a","strokeWidth":1.5},"data":{"name":"c1"},"mark":{"type":"circle","size":58,"opacity":1},"encoding":{"x":{"field":"x","type":"quantitative","scale":{"domain":[0,178],"nice":false,"zero":false},"axis":{"title":"UMAP1"}},"y":{"field":"y","type":"quantitative","scale":{"domain":[0,175],"nice":false,"zero":false,"reverse":true},"axis":{"title":"UMAP2"}},"color":{"field":"g","type":"nominal","scale":{"domain":[0,1],"range":["#1f77b4","#ff7f0e"]},"legend":null}}},
{"width":178,"height":175,"view":{"stroke":"#7a7a7a","strokeWidth":1.5},"data":{"name":"c2"},"mark":{"type":"circle","size":58,"opacity":1},"encoding":{"x":{"field":"x","type":"quantitative","scale":{"domain":[0,178],"nice":false,"zero":false},"axis":{"title":"UMAP1"}},"y":{"field":"y","type":"quantitative","scale":{"domain":[0,175],"nice":false,"zero":false,"reverse":true},"axis":{"title":"UMAP2"}},"color":{"field":"g","type":"nominal","scale":{"domain":[0,1],"range":["#1f77b4","#ff7f0e"]},"legend":null}}},
{"width":178,"height":175,"view":{"stroke":"#7a7a7a","strokeWidth":1.5},"data":{"name":"c3"},"mark":{"type":"circle","size":44,"opacity":1},"encoding":{"x":{"field":"x","type":"quantitative","scale":{"domain":[0,178],"nice":false,"zero":false},"axis":{"title":"UMAP1"}},"y":{"field":"y","type":"quantitative","scale":{"domain":[0,175],"nice":false,"zero":false,"reverse":true},"axis":{"title":"UMAP2"}},"color":{"field":"g","type":"nominal","scale":{"domain":[0,1],"range":["#1f77b4","#ff7f0e"]},"legend":null}}},
{"width":178,"height":175,"view":{"stroke":"#7a7a7a","strokeWidth":1.5},"data":{"name":"c4"},"mark":{"type":"circle","size":50,"opacity":1},"encoding":{"x":{"field":"x","type":"quantitative","scale":{"domain":[0,178],"nice":false,"zero":false},"axis":{"title":"UMAP1"}},"y":{"field":"y","type":"quantitative","scale":{"domain":[0,175],"nice":false,"zero":false,"reverse":true},"axis":{"title":"UMAP2"}},"color":{"field":"g","type":"nominal","scale":{"domain":[0,1],"range":["#1f77b4","#ff7f0e"]},"legend":{"orient":"none","legendX":0,"legendY":13,"title":null,"labelExpr":"'Group' + datum.label","labelFontSize":16,"labelColor":"#1a1a1a","symbolType":"circle","symbolSize":40,"labelOffset":1,"padding":0,"rowPadding":0}}}},
{"width":30,"height":20,"data":{"values":[{"t":"B"}]},"mark":{"type":"text","fontSize":15,"color":"#222","dx":-8,"dy":7},"encoding":{"text":{"field":"t"}}},
{"width":10,"height":20,"data":{"values":[]},"mark":"text","encoding":{}},
{"width":10,"height":20,"data":{"values":[]},"mark":"text","encoding":{}},
{"width":10,"height":20,"data":{"values":[]},"mark":"text","encoding":{}},
{"width":10,"height":20,"data":{"values":[]},"mark":"text","encoding":{}},
{"width":30,"height":96,"view":{"stroke":"#111","strokeWidth":1.5},"data":{"values":[{"label":"Batch"}]},"mark":{"type":"text","angle":270,"fontSize":17,"color":"#222"},"encoding":{"text":{"field":"label"}}},
{"width":178,"height":175,"view":{"stroke":"#7a7a7a","strokeWidth":1.5},"data":{"name":"c1"},"mark":{"type":"circle","size":58,"opacity":1},"encoding":{"x":{"field":"x","type":"quantitative","scale":{"domain":[0,178],"nice":false,"zero":false},"axis":{"title":"UMAP1"}},"y":{"field":"y","type":"quantitative","scale":{"domain":[0,175],"nice":false,"zero":false,"reverse":true},"axis":{"title":"UMAP2"}},"color":{"field":"b","type":"nominal","scale":{"domain":[1,2,3],"range":["#1f77b4","#ff7f0e","#2ca02c"]},"legend":null}}},
{"width":178,"height":175,"view":{"stroke":"#7a7a7a","strokeWidth":1.5},"data":{"name":"c2"},"mark":{"type":"circle","size":58,"opacity":1},"encoding":{"x":{"field":"x","type":"quantitative","scale":{"domain":[0,178],"nice":false,"zero":false},"axis":{"title":"UMAP1"}},"y":{"field":"y","type":"quantitative","scale":{"domain":[0,175],"nice":false,"zero":false,"reverse":true},"axis":{"title":"UMAP2"}},"color":{"field":"b","type":"nominal","scale":{"domain":[1,2,3],"range":["#1f77b4","#ff7f0e","#2ca02c"]},"legend":null}}},
{"width":178,"height":175,"view":{"stroke":"#7a7a7a","strokeWidth":1.5},"data":{"name":"c3"},"mark":{"type":"circle","size":44,"opacity":1},"encoding":{"x":{"field":"x","type":"quantitative","scale":{"domain":[0,178],"nice":false,"zero":false},"axis":{"title":"UMAP1"}},"y":{"field":"y","type":"quantitative","scale":{"domain":[0,175],"nice":false,"zero":false,"reverse":true},"axis":{"title":"UMAP2"}},"color":{"field":"b","type":"nominal","scale":{"domain":[1,2,3],"range":["#1f77b4","#ff7f0e","#2ca02c"]},"legend":null}}},
{"width":178,"height":175,"view":{"stroke":"#7a7a7a","strokeWidth":1.5},"data":{"name":"c4"},"mark":{"type":"circle","size":50,"opacity":1},"encoding":{"x":{"field":"x","type":"quantitative","scale":{"domain":[0,178],"nice":false,"zero":false},"axis":{"title":"UMAP1"}},"y":{"field":"y","type":"quantitative","scale":{"domain":[0,175],"nice":false,"zero":false,"reverse":true},"axis":{"title":"UMAP2"}},"color":{"field":"b","type":"nominal","scale":{"domain":[1,2,3],"range":["#1f77b4","#ff7f0e","#2ca02c"]},"legend":{"orient":"none","legendX":3,"legendY":12,"title":null,"labelExpr":"'Batch' + datum.label","labelFontSize":16,"labelColor":"#1a1a1a","symbolType":"circle","symbolSize":40,"labelOffset":1,"padding":0,"rowPadding":0}}}}
]
}
